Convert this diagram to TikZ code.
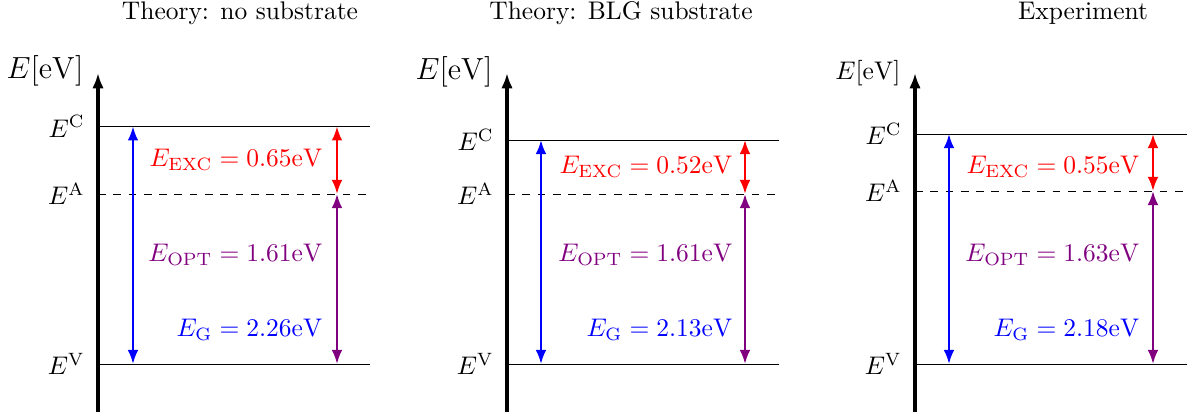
\documentclass[tikz,border=0pt]{standalone}
\usepackage{tikz}
\usetikzlibrary{arrows.meta,positioning}
\definecolor{optpurple}{RGB}{128,0,128}
\tikzset{
  level/.style={line width=0.4pt, draw=black},
  eaxis/.style={-{Latex[length=6pt,width=4.5pt]}, line width=1.2pt},
  gap/.style={{Latex[length=5.5pt,width=4.2pt]}-{Latex[length=5.5pt,width=4.2pt]}, line width=0.9pt},
  lvlname/.style={inner sep=0pt},
  gapname/.style={inner sep=0pt, anchor=east},
  title/.style={inner sep=0pt}
}

\begin{document}
\begin{tikzpicture}[x=0.0138cm, y=-0.0138cm]
  \useasboundingbox (0,0) rectangle (1195,415);

  \node[title] (t1) at (240,13) {Theory: no substrate};
  \node[title] (t2) at (621,13) {Theory: BLG substrate};
  \node[title] (t3) at (1083,13) {Experiment};

  \coordinate (ax1b) at (98,412);
  \coordinate (ax1t) at (98,73);
  \coordinate (c1l) at (98,126.4);
  \coordinate (c1r) at (370,126.4);
  \coordinate (a1l) at (98,194);
  \coordinate (a1r) at (370,194);
  \coordinate (v1l) at (98,364);
  \coordinate (v1r) at (370,364);
  \coordinate (g1) at (133,0);
  \coordinate (o1) at (337,0);
  \node[font=\large, inner sep=0pt] (u1) at (45,71) {$E[\mathrm{eV}]$};
  \draw[eaxis] (ax1b) -- (ax1t);
  \draw[level] (c1l) -- (c1r);
  \draw[level, dashed] (a1l) -- (a1r);
  \draw[level] (v1l) -- (v1r);
  \node[lvlname, left=5pt of c1l] (lc1) {$E^{\mathrm{C}}$};
  \node[lvlname, left=5pt of a1l] (la1) {$E^{\mathrm{A}}$};
  \node[lvlname, left=5pt of v1l] (lv1) {$E^{\mathrm{V}}$};
  \draw[gap, blue] (g1 |- c1l) -- (g1 |- v1l);
  \draw[gap, red] (o1 |- c1l) -- (o1 |- a1l);
  \draw[gap, optpurple] (o1 |- a1l) -- (o1 |- v1l);
  \node[gapname, text=red] (exc1) at (323,160) {$E_{\mathrm{EXC}} = 0.65\mathrm{eV}$};
  \node[gapname, text=optpurple] (opt1) at (323,255) {$E_{\mathrm{OPT}} = 1.61\mathrm{eV}$};
  \node[gapname, text=blue] (eg1) at (323,330) {$E_{\mathrm{G}} = 2.26\mathrm{eV}$};

  \coordinate (ax2b) at (507,412);
  \coordinate (ax2t) at (507,73);
  \coordinate (c2l) at (507,140);
  \coordinate (c2r) at (779,140);
  \coordinate (a2l) at (507,194);
  \coordinate (a2r) at (779,194);
  \coordinate (v2l) at (507,364);
  \coordinate (v2r) at (779,364);
  \coordinate (g2) at (541,0);
  \coordinate (o2) at (745,0);
  \node[font=\large, inner sep=0pt] (u2) at (454,72) {$E[\mathrm{eV}]$};
  \draw[eaxis] (ax2b) -- (ax2t);
  \draw[level] (c2l) -- (c2r);
  \draw[level, dashed] (a2l) -- (a2r);
  \draw[level] (v2l) -- (v2r);
  \node[lvlname, left=5pt of c2l] (lc2) {$E^{\mathrm{C}}$};
  \node[lvlname, left=5pt of a2l] (la2) {$E^{\mathrm{A}}$};
  \node[lvlname, left=5pt of v2l] (lv2) {$E^{\mathrm{V}}$};
  \draw[gap, blue] (g2 |- c2l) -- (g2 |- v2l);
  \draw[gap, red] (o2 |- c2l) -- (o2 |- a2l);
  \draw[gap, optpurple] (o2 |- a2l) -- (o2 |- v2l);
  \node[gapname, text=red] (exc2) at (733,167) {$E_{\mathrm{EXC}} = 0.52\mathrm{eV}$};
  \node[gapname, text=optpurple] (opt2) at (733,255) {$E_{\mathrm{OPT}} = 1.61\mathrm{eV}$};
  \node[gapname, text=blue] (eg2) at (733,330) {$E_{\mathrm{G}} = 2.13\mathrm{eV}$};

  \coordinate (ax3b) at (915,412);
  \coordinate (ax3t) at (915,73);
  \coordinate (c3l) at (915,134);
  \coordinate (c3r) at (1187,134);
  \coordinate (a3l) at (915,191);
  \coordinate (a3r) at (1187,191);
  \coordinate (v3l) at (915,364);
  \coordinate (v3r) at (1187,364);
  \coordinate (g3) at (949,0);
  \coordinate (o3) at (1153,0);
  \node[inner sep=0pt] (u3) at (868,73) {$E[\mathrm{eV}]$};
  \draw[eaxis] (ax3b) -- (ax3t);
  \draw[level] (c3l) -- (c3r);
  \draw[level, dashed] (a3l) -- (a3r);
  \draw[level] (v3l) -- (v3r);
  \node[lvlname, left=5pt of c3l] (lc3) {$E^{\mathrm{C}}$};
  \node[lvlname, left=5pt of a3l] (la3) {$E^{\mathrm{A}}$};
  \node[lvlname, left=5pt of v3l] (lv3) {$E^{\mathrm{V}}$};
  \draw[gap, blue] (g3 |- c3l) -- (g3 |- v3l);
  \draw[gap, red] (o3 |- c3l) -- (o3 |- a3l);
  \draw[gap, optpurple] (o3 |- a3l) -- (o3 |- v3l);
  \node[gapname, text=red] (exc3) at (1140,167) {$E_{\mathrm{EXC}} = 0.55\mathrm{eV}$};
  \node[gapname, text=optpurple] (opt3) at (1140,255) {$E_{\mathrm{OPT}} = 1.63\mathrm{eV}$};
  \node[gapname, text=blue] (eg3) at (1140,330) {$E_{\mathrm{G}} = 2.18\mathrm{eV}$};
\end{tikzpicture}
\end{document}
